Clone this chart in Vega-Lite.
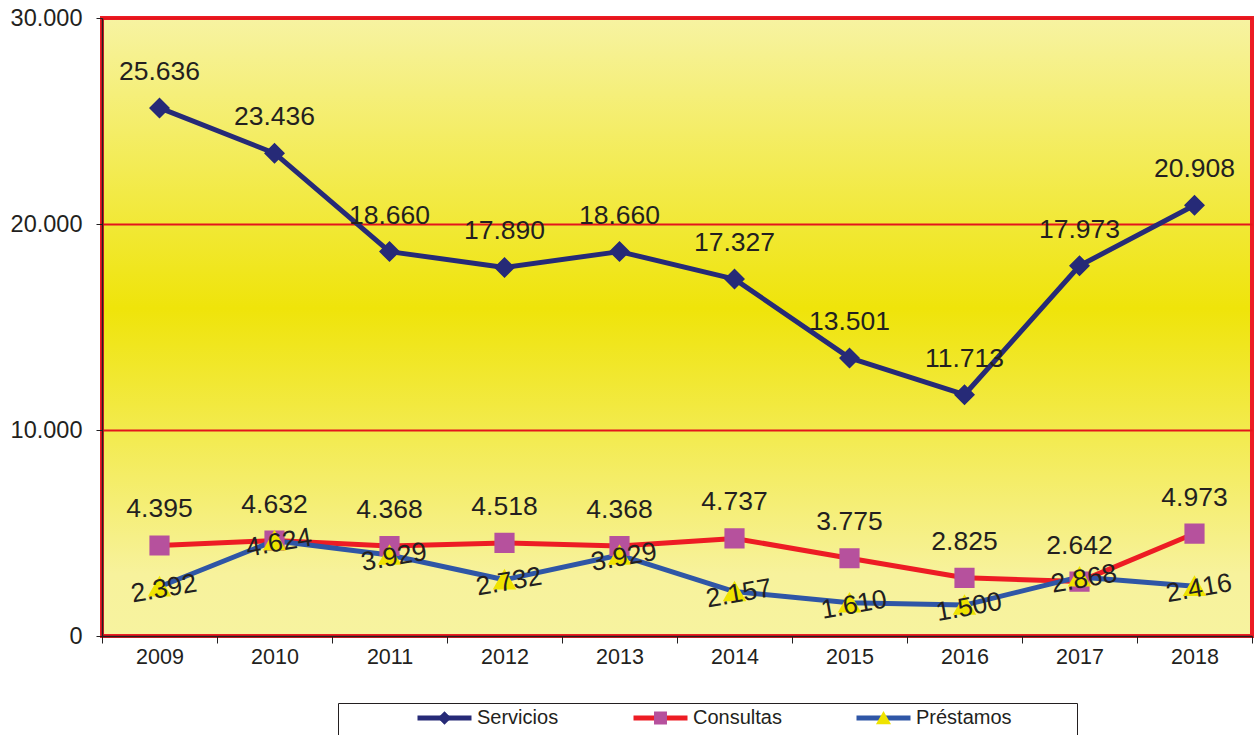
{
  "$schema": "https://vega.github.io/schema/vega-lite/v6.json",
  "width": 1150,
  "height": 618,
  "autosize": "none",
  "padding": {"left": 102, "top": 18, "right": 2, "bottom": 99},
  "background": "white",
  "data": {
    "values": [
      {"year": "2009", "serie": "Servicios", "valor": 25636},
      {"year": "2010", "serie": "Servicios", "valor": 23436},
      {"year": "2011", "serie": "Servicios", "valor": 18660},
      {"year": "2012", "serie": "Servicios", "valor": 17890},
      {"year": "2013", "serie": "Servicios", "valor": 18660},
      {"year": "2014", "serie": "Servicios", "valor": 17327},
      {"year": "2015", "serie": "Servicios", "valor": 13501},
      {"year": "2016", "serie": "Servicios", "valor": 11713},
      {"year": "2017", "serie": "Servicios", "valor": 17973},
      {"year": "2018", "serie": "Servicios", "valor": 20908},
      {"year": "2009", "serie": "Consultas", "valor": 4395},
      {"year": "2010", "serie": "Consultas", "valor": 4632},
      {"year": "2011", "serie": "Consultas", "valor": 4368},
      {"year": "2012", "serie": "Consultas", "valor": 4518},
      {"year": "2013", "serie": "Consultas", "valor": 4368},
      {"year": "2014", "serie": "Consultas", "valor": 4737},
      {"year": "2015", "serie": "Consultas", "valor": 3775},
      {"year": "2016", "serie": "Consultas", "valor": 2825},
      {"year": "2017", "serie": "Consultas", "valor": 2642},
      {"year": "2018", "serie": "Consultas", "valor": 4973},
      {"year": "2009", "serie": "Préstamos", "valor": 2392},
      {"year": "2010", "serie": "Préstamos", "valor": 4624},
      {"year": "2011", "serie": "Préstamos", "valor": 3929},
      {"year": "2012", "serie": "Préstamos", "valor": 2732},
      {"year": "2013", "serie": "Préstamos", "valor": 3929},
      {"year": "2014", "serie": "Préstamos", "valor": 2157},
      {"year": "2015", "serie": "Préstamos", "valor": 1610},
      {"year": "2016", "serie": "Préstamos", "valor": 1500},
      {"year": "2017", "serie": "Préstamos", "valor": 2868},
      {"year": "2018", "serie": "Préstamos", "valor": 2416}
    ]
  },
  "encoding": {
    "x": {
      "field": "year", "type": "ordinal",
      "scale": {"paddingInner": 0, "paddingOuter": 0},
      "axis": {
        "title": null, "labelAngle": 0, "labelFont": "Liberation Sans", "labelFontSize": 21.5,
        "labelColor": "#231f20", "labelPadding": 3, "tickBand": "extent", "tickSize": 7,
        "tickColor": "#231f20", "domainColor": "#231f20", "domainWidth": 1.5, "grid": false
      }
    },
    "y": {
      "field": "valor", "type": "quantitative",
      "scale": {"domain": [0, 30000], "nice": false},
      "axis": {
        "title": null, "values": [0, 10000, 20000, 30000], "format": ",d",
        "labelFont": "Liberation Sans", "labelFontSize": 23.5, "labelColor": "#231f20",
        "labelPadding": 14, "tickSize": 6, "tickColor": "#231f20", "domainColor": "#231f20",
        "domainWidth": 1.5, "grid": true, "gridColor": "#e3151c", "gridWidth": 2
      }
    }
  },
  "layer": [
    {
      "mark": {"type": "line", "strokeWidth": 5, "strokeCap": "round", "strokeJoin": "round"},
      "encoding": {
        "stroke": {
          "field": "serie", "type": "nominal", "sort": ["Servicios", "Consultas", "Préstamos"],
          "scale": {"range": ["#262a77", "#ed1c24", "#2f56a6"]},
          "legend": {
            "orient": "none", "legendX": 236, "legendY": 685, "direction": "horizontal",
            "title": "\u00a0", "titleOrient": "left", "titleFontSize": 36, "titlePadding": 72,
            "titleFont": "Liberation Sans",
            "symbolType": "stroke", "symbolSize": 2916, "symbolStrokeWidth": 5, "clipHeight": 20,
            "labelFont": "Liberation Sans", "labelFontSize": 20, "labelColor": "#231f20",
            "labelOffset": 3, "columnPadding": 72, "padding": 5, "labelLimit": 400,
            "labelExpr": "datum.label === 'Préstamos' ? datum.label + '\u2800\u2800\u2800\u2800' : datum.label",
            "strokeColor": "#231f20", "fillColor": null
          }
        }
      }
    },
    {
      "mark": {"type": "point", "filled": true, "opacity": 1, "size": 7056},
      "encoding": {
        "fill": {
          "field": "serie", "type": "nominal",
          "scale": {"domain": ["Servicios", "Consultas", "Préstamos"], "range": ["#262a77", "#b6519d", "#efe300"]},
          "legend": {
            "orient": "none", "legendX": 236, "legendY": 685, "direction": "horizontal",
            "title": "\u00a0", "titleOrient": "left", "titleFontSize": 36, "titlePadding": 72,
            "titleFont": "Liberation Sans",
            "symbolSize": 2916, "symbolStrokeWidth": 5, "symbolStrokeColor": "transparent", "clipHeight": 20,
            "labelFont": "Liberation Sans", "labelFontSize": 20, "labelOpacity": 0,
            "labelOffset": 3, "columnPadding": 72, "padding": 5, "labelLimit": 400
          }
        },
        "shape": {
          "field": "serie", "type": "nominal",
          "scale": {
            "domain": ["Servicios", "Consultas", "Préstamos"],
            "range": [
              "M-1,0L1,0M0,-0.25L0.25,0L0,0.25L-0.25,0Z",
              "M-1,0L1,0M-0.24,-0.24H0.24V0.24H-0.24Z",
              "M-1,0L1,0M0,-0.26L0.28,0.23L-0.28,0.23Z"
            ]
          },
          "legend": {
            "orient": "none", "legendX": 236, "legendY": 685, "direction": "horizontal",
            "title": "\u00a0", "titleOrient": "left", "titleFontSize": 36, "titlePadding": 72,
            "titleFont": "Liberation Sans",
            "symbolSize": 2916, "symbolStrokeWidth": 5, "symbolStrokeColor": "transparent", "clipHeight": 20,
            "labelFont": "Liberation Sans", "labelFontSize": 20, "labelOpacity": 0,
            "labelOffset": 3, "columnPadding": 72, "padding": 5, "labelLimit": 400
          }
        }
      }
    },
    {
      "transform": [{"filter": "datum.serie !== 'Préstamos'"}],
      "mark": {"type": "text", "dy": -36, "fontSize": 26.5, "font": "Liberation Sans", "color": "#231f20"},
      "encoding": {"text": {"field": "valor", "type": "quantitative", "format": ",d"}}
    },
    {
      "transform": [{"filter": "datum.serie === 'Préstamos'"}],
      "mark": {"type": "text", "dy": 3, "dx": 4, "angle": 350, "fontSize": 26.5, "font": "Liberation Sans", "color": "#231f20"},
      "encoding": {"text": {"field": "valor", "type": "quantitative", "format": ",d"}}
    }
  ],
  "config": {
    "locale": {"number": {"decimal": ",", "thousands": ".", "grouping": [3], "currency": ["", " €"]}},
    "view": {
      "stroke": "#ed1c24",
      "strokeWidth": 4,
      "fill": {
        "gradient": "linear", "x1": 0, "y1": 0, "x2": 0, "y2": 1,
        "stops": [
          {"offset": 0, "color": "#f7f3a2"},
          {"offset": 0.47, "color": "#efe40a"},
          {"offset": 0.9, "color": "#f7f29c"},
          {"offset": 1, "color": "#f7f39f"}
        ]
      }
    }
  }
}
